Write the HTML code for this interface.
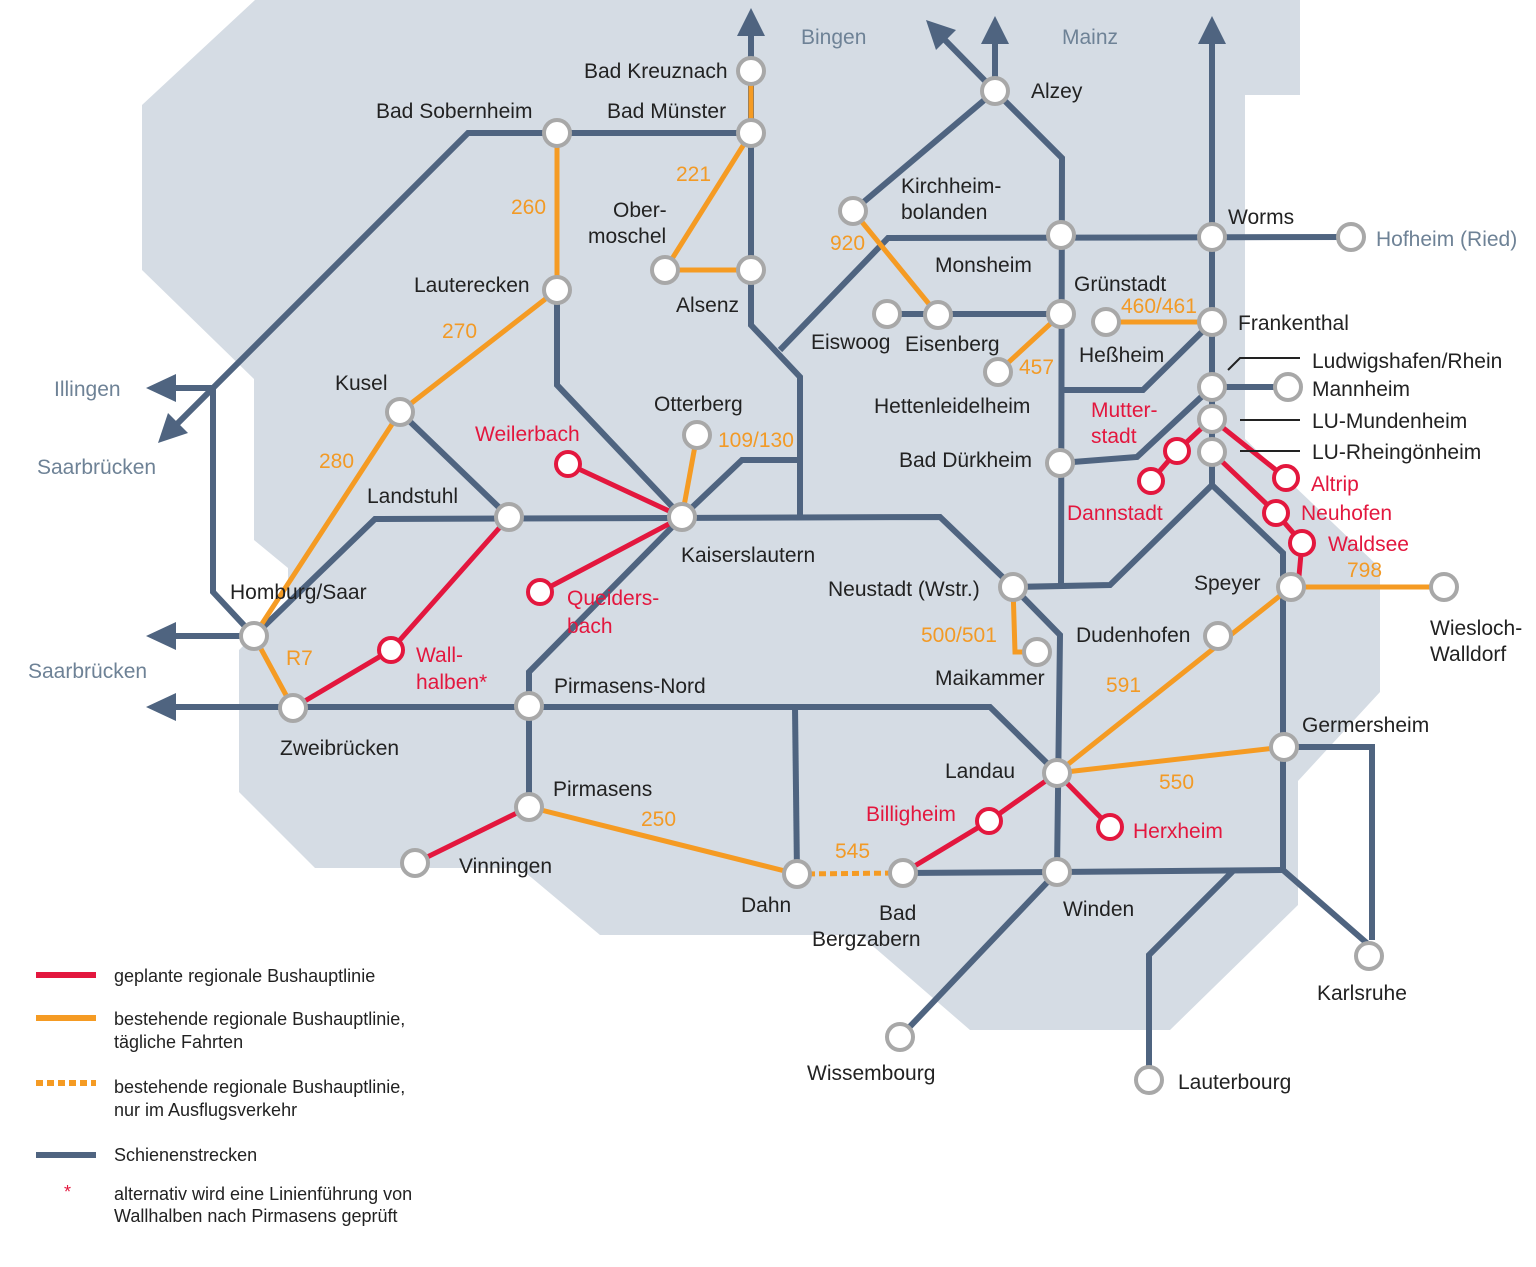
<!DOCTYPE html>
<html><head><meta charset="utf-8"><style>
html,body{margin:0;padding:0;background:#fff}
svg{display:block}
text{font-family:"Liberation Sans",sans-serif;font-size:21px;fill:#222}
.g{fill:#6e8296}.o{fill:#f29a26}.r{fill:#e3173e}
.rl{stroke:#4f6480;stroke-width:6;fill:none;stroke-linejoin:miter}
.ol{stroke:#f59b23;stroke-width:5;fill:none}
.re{stroke:#e3173e;stroke-width:5;fill:none}
.st{fill:#fff;stroke:#a8a8a8;stroke-width:4}
.sr{fill:#fff;stroke:#e3173e;stroke-width:4}
.lg{font-size:18px}
</style></head><body>
<svg width="1536" height="1267" viewBox="0 0 1536 1267" xmlns="http://www.w3.org/2000/svg">
<polygon fill="#d5dce4" points="255,0 1300,0 1300,95 1245,95 1245,439 1380,568 1380,692 1298,781 1298,905 1170,1030 970,1030 860,935 600,935 520,868 315,868 239,792 239,650 288,602 288,568 254,540 254,379 142,270 142,105"/>
<!-- rail -->
<g class="rl">
<polyline points="751,30 751,325 800,377 800,517"/>
<polyline points="751,133 468,133 213,388 213,592 254,636"/>
<polyline points="213,388 170,388"/>
<polyline points="213,388 175,426"/>
<polyline points="254,636 170,636"/>
<polyline points="557,290 557,385 682,517"/>
<polyline points="400,412 509,517"/>
<polyline points="254,636 375,519 940,517 1013,587 1060,635 1057,872"/>
<polyline points="170,707 990,707 1057,773"/>
<polyline points="795,707 797,874"/>
<polyline points="682,517 529,672 529,807"/>
<polyline points="682,517 742,460 800,460"/>
<polyline points="1013,587 1110,585 1212,485 1283,553 1283,870 1369,945"/>
<polyline points="1212,452 1212,485"/>
<polyline points="1284,747 1372,747 1372,940"/>
<polyline points="903,873 1057,872 1283,870"/>
<polyline points="1057,872 900,1037"/>
<polyline points="1233,871 1149,955 1149,1080"/>
<polyline points="1060,463 1137,457 1212,387"/>
<polyline points="995,91 1062,158 1061,585"/>
<polyline points="995,91 995,35"/>
<polyline points="995,91 943,38"/>
<polyline points="995,91 853,211"/>
<polyline points="1061,390 1143,390 1212,322"/>
<polyline points="780,350 888,238 1351,237"/>
<polyline points="887,314 1061,314"/>
<polyline points="1212,35 1212,485"/>
<polyline points="1212,387 1288,387"/>
</g>
<!-- arrowheads -->
<g fill="#4f6480">
<polygon points="751,8 737,36 765,36"/>
<polygon points="995,16 981,44 1009,44"/>
<polygon points="1212,16 1198,44 1226,44"/>
<polygon points="926,20 936,50 956,30"/>
<polygon points="146,388 176,374 176,402"/>
<polygon points="146,636 176,622 176,650"/>
<polygon points="146,707 176,693 176,721"/>
<polygon points="158,443 168,413 188,433"/>
</g>
<!-- orange -->
<g class="ol">
<polyline points="751,71 751,133 665,270 751,270"/>
<polyline points="557,133 557,290 400,412 254,636 293,708"/>
<polyline points="697,435 682,517"/>
<polyline points="853,211 938,315"/>
<polyline points="1061,314 998,372"/>
<polyline points="1106,322 1212,322"/>
<polyline points="1013,587 1015,652 1037,652"/>
<polyline points="1057,773 1291,587 1444,587"/>
<polyline points="1057,773 1284,747"/>
<polyline points="529,807 797,874"/>
<polyline points="797,874 903,873" stroke-dasharray="7,4"/>
</g>
<!-- red -->
<g class="re">
<polyline points="568,464 682,517 540,592"/>
<polyline points="509,517 391,650 293,708"/>
<polyline points="529,807 415,863"/>
<polyline points="903,873 989,821 1057,773 1110,827"/>
<polyline points="1212,419 1286,478"/>
<polyline points="1212,452 1276,513 1302,543 1298,587"/>
<polyline points="1205,425 1177,451 1151,481"/>
</g>
<!-- leaders -->
<g stroke="#222" stroke-width="2" fill="none">
<polyline points="1228,370 1240,358 1300,358"/>
<line x1="1240" y1="420" x2="1300" y2="420"/>
<line x1="1240" y1="451" x2="1300" y2="451"/>
</g>
<!-- stations -->
<g class="st">
<circle cx="751" cy="71" r="13"/><circle cx="751" cy="133" r="13"/><circle cx="557" cy="133" r="13"/>
<circle cx="557" cy="290" r="13"/><circle cx="665" cy="270" r="13"/><circle cx="751" cy="270" r="13"/>
<circle cx="400" cy="412" r="13"/><circle cx="509" cy="517" r="13"/><circle cx="682" cy="517" r="13"/>
<circle cx="697" cy="435" r="13"/><circle cx="254" cy="636" r="13"/><circle cx="293" cy="708" r="13"/>
<circle cx="529" cy="706" r="13"/><circle cx="529" cy="807" r="13"/><circle cx="415" cy="863" r="13"/>
<circle cx="797" cy="874" r="13"/><circle cx="903" cy="873" r="13"/><circle cx="1057" cy="773" r="13"/>
<circle cx="1057" cy="872" r="13"/><circle cx="900" cy="1037" r="13"/><circle cx="1149" cy="1080" r="13"/>
<circle cx="1369" cy="956" r="13"/><circle cx="1284" cy="747" r="13"/><circle cx="1218" cy="636" r="13"/>
<circle cx="1291" cy="587" r="13"/><circle cx="1444" cy="587" r="13"/><circle cx="1212" cy="452" r="13"/>
<circle cx="1212" cy="419" r="13"/><circle cx="1212" cy="387" r="13"/><circle cx="1288" cy="387" r="13"/>
<circle cx="1212" cy="322" r="13"/><circle cx="1106" cy="322" r="13"/><circle cx="1212" cy="237" r="13"/>
<circle cx="1351" cy="237" r="13"/><circle cx="1061" cy="314" r="13"/><circle cx="938" cy="315" r="13"/>
<circle cx="887" cy="314" r="13"/><circle cx="998" cy="372" r="13"/><circle cx="1061" cy="235" r="13"/>
<circle cx="853" cy="211" r="13"/><circle cx="995" cy="91" r="13"/><circle cx="1060" cy="463" r="13"/>
<circle cx="1013" cy="587" r="13"/><circle cx="1037" cy="652" r="13"/>
</g>
<g class="sr">
<circle cx="568" cy="464" r="12"/><circle cx="540" cy="592" r="12"/><circle cx="391" cy="650" r="12"/>
<circle cx="989" cy="821" r="12"/><circle cx="1110" cy="827" r="12"/><circle cx="1302" cy="543" r="12"/>
<circle cx="1276" cy="513" r="12"/><circle cx="1286" cy="478" r="12"/><circle cx="1177" cy="451" r="12"/>
<circle cx="1151" cy="481" r="12"/>
</g>
<!-- labels -->
<text class="g" x="801" y="44">Bingen</text>
<text class="g" x="1062" y="44">Mainz</text>
<text class="g" x="54" y="396">Illingen</text>
<text class="g" x="37" y="474">Saarbrücken</text>
<text class="g" x="28" y="678">Saarbrücken</text>
<text class="g" x="1376" y="246">Hofheim (Ried)</text>
<text x="584" y="78">Bad Kreuznach</text>
<text x="607" y="118">Bad Münster</text>
<text x="376" y="118">Bad Sobernheim</text>
<text x="613" y="217">Ober-</text><text x="588" y="243">moschel</text>
<text x="676" y="312">Alsenz</text>
<text x="414" y="292">Lauterecken</text>
<text x="335" y="390">Kusel</text>
<text x="367" y="503">Landstuhl</text>
<text x="654" y="411">Otterberg</text>
<text x="681" y="562">Kaiserslautern</text>
<text x="230" y="599">Homburg/Saar</text>
<text x="280" y="755">Zweibrücken</text>
<text x="554" y="693">Pirmasens-Nord</text>
<text x="553" y="796">Pirmasens</text>
<text x="459" y="873">Vinningen</text>
<text x="741" y="912">Dahn</text>
<text x="879" y="920">Bad</text><text x="812" y="946">Bergzabern</text>
<text x="1063" y="916">Winden</text>
<text x="807" y="1080">Wissembourg</text>
<text x="1178" y="1089">Lauterbourg</text>
<text x="1317" y="1000">Karlsruhe</text>
<text x="945" y="778">Landau</text>
<text x="1302" y="732">Germersheim</text>
<text x="1076" y="642">Dudenhofen</text>
<text x="1194" y="590">Speyer</text>
<text x="1430" y="635">Wiesloch-</text><text x="1430" y="661">Walldorf</text>
<text x="935" y="685">Maikammer</text>
<text x="828" y="596">Neustadt (Wstr.)</text>
<text x="899" y="467">Bad Dürkheim</text>
<text x="874" y="413">Hettenleidelheim</text>
<text x="811" y="349">Eiswoog</text>
<text x="905" y="351">Eisenberg</text>
<text x="935" y="272">Monsheim</text>
<text x="901" y="193">Kirchheim-</text><text x="901" y="219">bolanden</text>
<text x="1031" y="98">Alzey</text>
<text x="1228" y="224">Worms</text>
<text x="1074" y="291">Grünstadt</text>
<text x="1079" y="362">Heßheim</text>
<text x="1238" y="330">Frankenthal</text>
<text x="1312" y="368">Ludwigshafen/Rhein</text>
<text x="1312" y="396">Mannheim</text>
<text x="1312" y="428">LU-Mundenheim</text>
<text x="1312" y="459">LU-Rheingönheim</text>
<text class="r" x="475" y="441">Weilerbach</text>
<text class="r" x="567" y="605">Queiders-</text><text class="r" x="567" y="633">bach</text>
<text class="r" x="416" y="662">Wall-</text><text class="r" x="416" y="689">halben*</text>
<text class="r" x="866" y="821">Billigheim</text>
<text class="r" x="1133" y="838">Herxheim</text>
<text class="r" x="1311" y="491">Altrip</text>
<text class="r" x="1301" y="520">Neuhofen</text>
<text class="r" x="1328" y="551">Waldsee</text>
<text class="r" x="1091" y="417">Mutter-</text><text class="r" x="1091" y="443">stadt</text>
<text class="r" x="1067" y="520">Dannstadt</text>
<text class="o" x="511" y="214">260</text>
<text class="o" x="676" y="181">221</text>
<text class="o" x="442" y="338">270</text>
<text class="o" x="319" y="468">280</text>
<text class="o" x="286" y="665">R7</text>
<text class="o" x="718" y="447">109/130</text>
<text class="o" x="830" y="250">920</text>
<text class="o" x="1019" y="374">457</text>
<text class="o" x="1121" y="313">460/461</text>
<text class="o" x="921" y="642">500/501</text>
<text class="o" x="1106" y="692">591</text>
<text class="o" x="1159" y="789">550</text>
<text class="o" x="1347" y="577">798</text>
<text class="o" x="641" y="826">250</text>
<text class="o" x="835" y="858">545</text>
<!-- legend -->
<line x1="36" y1="975" x2="96" y2="975" stroke="#e3173e" stroke-width="6"/>
<line x1="36" y1="1018" x2="96" y2="1018" stroke="#f59b23" stroke-width="6"/>
<line x1="36" y1="1083" x2="96" y2="1083" stroke="#f59b23" stroke-width="6" stroke-dasharray="7,4"/>
<line x1="36" y1="1155" x2="96" y2="1155" stroke="#4f6480" stroke-width="6"/>
<text class="lg r" x="64" y="1198">*</text>
<text class="lg" x="114" y="982">geplante regionale Bushauptlinie</text>
<text class="lg" x="114" y="1025">bestehende regionale Bushauptlinie,</text>
<text class="lg" x="114" y="1048">tägliche Fahrten</text>
<text class="lg" x="114" y="1093">bestehende regionale Bushauptlinie,</text>
<text class="lg" x="114" y="1116">nur im Ausflugsverkehr</text>
<text class="lg" x="114" y="1161">Schienenstrecken</text>
<text class="lg" x="114" y="1200">alternativ wird eine Linienführung von</text>
<text class="lg" x="114" y="1222">Wallhalben nach Pirmasens geprüft</text>
</svg>
</body></html>
